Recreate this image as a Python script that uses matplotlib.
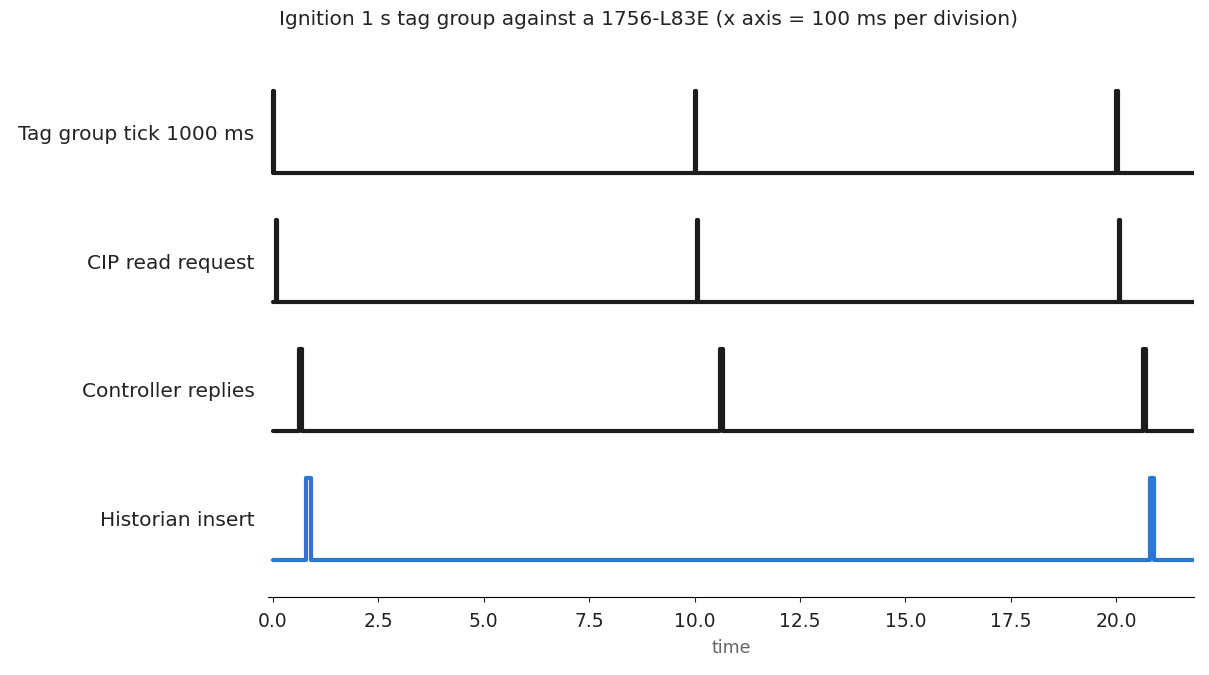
import matplotlib.pyplot as plt
import numpy as np

signals = ["Tag group tick 1000 ms", "CIP read request", "Controller replies", "Historian insert"]
pulse_starts = [
    [0.0, 10.0, 20.0],
    [0.07, 10.05, 20.05],
    [0.62, 10.6, 20.62],
    [0.8, 20.8],
]
pulse_widths = [0.03, 0.04, 0.08, 0.1]
colors = ["#1c1c1c", "#1c1c1c", "#1c1c1c", "#2b78d4"]
t_end = 21.85
high = 0.64

fig, ax = plt.subplots(figsize=(12.09, 6.75), dpi=100)
fig.subplots_adjust(left=0.222, right=0.988, top=0.915, bottom=0.115)

n = len(signals)
for i, (starts, w, c) in enumerate(zip(pulse_starts, pulse_widths, colors)):
    base = n - 1 - i
    xs, ys = [0.0], [base]
    for s in starts:
        xs += [s, s, s + w, s + w]
        ys += [base, base + high, base + high, base]
    xs.append(t_end)
    ys.append(base)
    ax.plot(xs, ys, color=c, lw=3, solid_capstyle="round", solid_joinstyle="round")

ax.set_yticks([n - 1 - i + high / 2 for i in range(n)])
ax.set_yticklabels(signals, fontsize=14.5, color="#222222")
ax.tick_params(axis="y", length=0, pad=10)
ax.tick_params(axis="x", labelsize=13.5, colors="#222222", pad=7)
ax.set_xticks(np.arange(0, 22, 2.5))
ax.set_xlim(-0.1, t_end)
ax.set_ylim(-0.29, 3.9)
for side in ["left", "right", "top"]:
    ax.spines[side].set_visible(False)
ax.set_xlabel("time", fontsize=12.5, color="#666666", labelpad=6)
fig.suptitle("Ignition 1 s tag group against a 1756-L83E (x axis = 100 ms per division)",
             fontsize=14.5, color="#222222", x=0.536, y=0.985)

fig.savefig("out.png")
